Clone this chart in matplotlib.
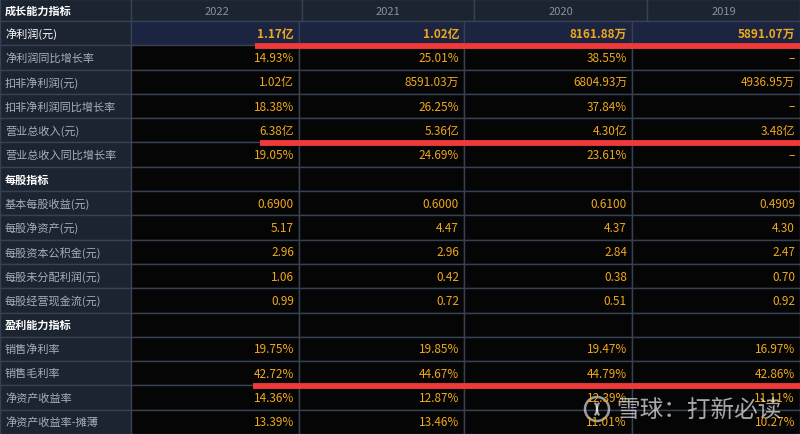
import matplotlib.pyplot as plt
from matplotlib.patches import Rectangle, Circle, Arc

plt.rcParams['font.family'] = ['Noto Sans CJK SC', 'DejaVu Sans']

# --- table content ---
years = ['2022', '2021', '2020', '2019']
row_labels = ['净利润(元)', '净利润同比增长率', '扣非净利润(元)', '扣非净利润同比增长率',
              '营业总收入(元)', '营业总收入同比增长率', '每股指标', '基本每股收益(元)',
              '每股净资产(元)', '每股资本公积金(元)', '每股未分配利润(元)', '每股经营现金流(元)',
              '盈利能力指标', '销售净利率', '销售毛利率', '净资产收益率', '净资产收益率-摊薄']
col_2022 = ['1.17亿', '14.93%', '1.02亿', '18.38%', '6.38亿', '19.05%', '', '0.6900',
            '5.17', '2.96', '1.06', '0.99', '', '19.75%', '42.72%', '14.36%', '13.39%']
col_2021 = ['1.02亿', '25.01%', '8591.03万', '26.25%', '5.36亿', '24.69%', '', '0.6000',
            '4.47', '2.96', '0.42', '0.72', '', '19.85%', '44.67%', '12.87%', '13.46%']
col_2020 = ['8161.88万', '38.55%', '6804.93万', '37.84%', '4.30亿', '23.61%', '', '0.6100',
            '4.37', '2.84', '0.38', '0.51', '', '19.47%', '44.79%', '12.39%', '11.01%']
col_2019 = ['5891.07万', '–', '4936.95万', '–', '3.48亿', '–', '', '0.4909',
            '4.30', '2.47', '0.70', '0.92', '', '16.97%', '42.86%', '11.11%', '10.27%']
section_rows = ['每股指标', '盈利能力指标']
highlight_row = '净利润(元)'
red_rows = {'净利润(元)': 255, '营业总收入(元)': 260, '销售毛利率': 253}

# --- layout (pixels) ---
W, H = 800, 435
body_x = [0, 131, 299, 464, 632, 800]
head_x = [0, 131, 302, 474, 647, 800]
head_h = 22
row_h = (H - head_h) / len(row_labels)

label_bg = '#1c2431'
cell_bg = '#050505'
hl_bg = '#1b2440'
grid_c = '#364152'
val_c = '#f0a81a'
lab_c = '#a7afbb'

fig = plt.figure(figsize=(8, 4.35), dpi=100)
ax = fig.add_axes([0, 0, 1, 1])
ax.set_xlim(0, W)
ax.set_ylim(H, 0)
ax.axis('off')
fig.patch.set_facecolor(cell_bg)

# header row
for j in range(5):
    ax.add_patch(Rectangle((head_x[j], 0), head_x[j + 1] - head_x[j], head_h,
                           facecolor=label_bg, edgecolor=grid_c, lw=1))
ax.text(5, head_h / 2, '成长能力指标', color='white', fontsize=8, fontweight='bold',
        ha='left', va='center')
for j, y in enumerate(years):
    ax.text((head_x[j + 1] + head_x[j + 2]) / 2, head_h / 2 + 1, y, color='#8790a0',
            fontsize=8, ha='center', va='center')

cols = [col_2022, col_2021, col_2020, col_2019]
for i, lab in enumerate(row_labels):
    y0 = head_h + i * row_h
    yc = y0 + row_h / 2
    ax.add_patch(Rectangle((0, y0), body_x[1], row_h, facecolor=label_bg,
                           edgecolor=grid_c, lw=1))
    bg = hl_bg if lab == highlight_row else cell_bg
    for j in range(4):
        ax.add_patch(Rectangle((body_x[j + 1], y0), body_x[j + 2] - body_x[j + 1], row_h,
                               facecolor=bg, edgecolor=grid_c, lw=1))
        v = cols[j][i]
        if v:
            ax.text(body_x[j + 2] - 5, yc, v, color=val_c, fontsize=8.5,
                    fontweight='bold' if lab == highlight_row else 'normal',
                    ha='right', va='center')
    if lab in section_rows:
        ax.text(5, yc, lab, color='white', fontsize=8, fontweight='bold',
                ha='left', va='center')
    else:
        c = 'white' if lab == highlight_row else lab_c
        ax.text(5, yc, lab, color=c, fontsize=8, ha='left', va='center')
    if lab in red_rows:
        ax.plot([red_rows[lab], W], [y0 + row_h + 0.5, y0 + row_h + 0.5],
                color='#f03a3a', lw=4.2, solid_capstyle='butt')

# watermark
wm_y = 410
ax.add_patch(Circle((597, wm_y), 12, fill=False, edgecolor='white', lw=1.8, alpha=0.6))
ax.add_patch(Arc((591, wm_y), 12, 16, theta1=-60, theta2=60, color='white', lw=1.6, alpha=0.6))
ax.add_patch(Arc((603, wm_y), 12, 16, theta1=120, theta2=240, color='white', lw=1.6, alpha=0.6))
ax.text(616, wm_y, '雪球：打新必读', color='white', alpha=0.65, fontsize=17,
        ha='left', va='center')

fig.savefig('out.png', dpi=100, facecolor=fig.get_facecolor())
